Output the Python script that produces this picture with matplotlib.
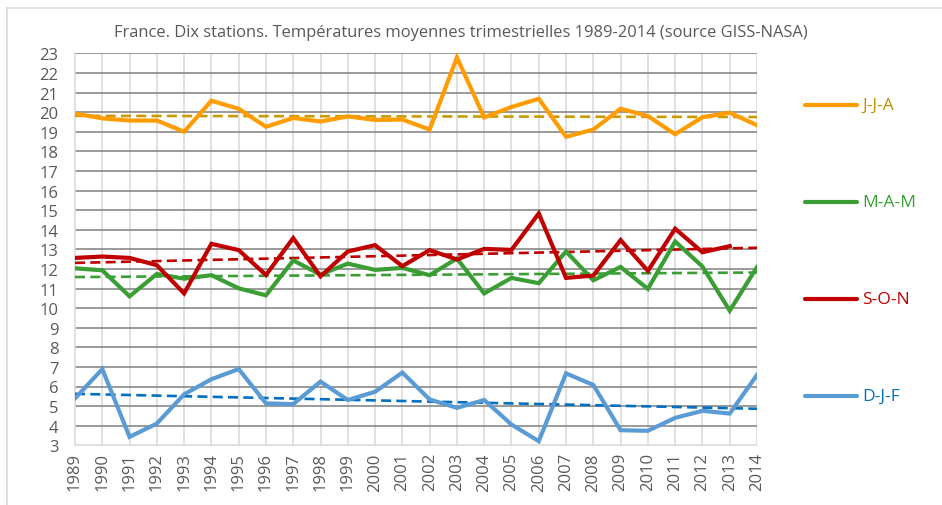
import numpy as np
import matplotlib
matplotlib.use("Agg")
import matplotlib.pyplot as plt
from matplotlib.lines import Line2D

years = list(range(1989, 2015))
jja = [19.93, 19.68, 19.57, 19.57, 19.0, 20.58, 20.17, 19.25, 19.7, 19.52, 19.78, 19.6,
       19.62, 19.11, 22.79, 19.73, 20.26, 20.68, 18.74, 19.11, 20.17, 19.8, 18.87, 19.74, 19.97, 19.33]
mam = [12.03, 11.93, 10.6, 11.74, 11.5, 11.68, 11.01, 10.65, 12.43, 11.71, 12.27, 11.95,
       12.05, 11.68, 12.53, 10.75, 11.54, 11.27, 12.89, 11.42, 12.1, 10.98, 13.4, 12.12, 9.87, 12.09]
son = [12.56, 12.63, 12.56, 12.19, 10.75, 13.28, 12.96, 11.69, 13.57, 11.62, 12.89, 13.21,
       12.14, 12.96, 12.48, 13.02, 12.97, 14.83, 11.54, 11.66, 13.47, 11.9, 14.05, 12.85, 13.16, np.nan]
djf = [5.39, 6.89, 3.43, 4.11, 5.6, 6.37, 6.89, 5.14, 5.1, 6.25, 5.31, 5.73,
       6.71, 5.34, 4.91, 5.31, 4.06, 3.21, 6.67, 6.08, 3.77, 3.74, 4.4, 4.76, 4.62, 6.59]

series = [
    ("J-J-A", jja, "#FF9C00", "#C89B00", "#C09000"),
    ("M-A-M", mam, "#3A9E35", "#3A9E35", "#3A9E35"),
    ("S-O-N", son, "#C00000", "#C00000", "#C00000"),
    ("D-J-F", djf, "#5B9BD5", "#0070C0", "#0070C0"),
]

FONT = "Open Sans"
TICK_FS = 12
W, H = 942, 506
fig = plt.figure(figsize=(W / 100, H / 100), dpi=100)
ax = fig.add_axes([75 / W, 1 - 446.3 / H, (757 - 75) / W, (446.3 - 54.3) / H])

x = np.arange(len(years))
for name, vals, col, tcol, lcol in series:
    v = np.array(vals, dtype=float)
    ax.plot(x, v, color=col, lw=3.0, solid_joinstyle="miter", zorder=4)
    m = ~np.isnan(v)
    p = np.polyfit(x[m], v[m], 1)
    ax.plot(x, np.polyval(p, x), color=tcol, lw=1.9, dashes=(3.8, 2), zorder=3)

ax.set_xlim(0, len(years) - 1)
ax.set_ylim(3, 23)
ax.set_yticks(range(3, 24))
ax.set_xticks(x)
ax.set_xticklabels([str(y) for y in years], rotation=90, fontfamily=FONT, fontsize=TICK_FS, color="#595959")
for lab in ax.get_yticklabels():
    lab.set_fontfamily(FONT)
    lab.set_fontsize(TICK_FS)
    lab.set_color("#595959")
ax.tick_params(axis="y", length=0, pad=12)
ax.tick_params(axis="x", length=0, pad=5)

for yv in range(4, 24):
    ax.axhline(yv, color="#7F7F7F", lw=1.1, zorder=1)
for xv in x[1:]:
    ax.axvline(xv, color="#D9D9D9", lw=1.1, zorder=0.5)
for s in ["top", "right"]:
    ax.spines[s].set_visible(False)
for s in ["left", "bottom"]:
    ax.spines[s].set_color("#D9D9D9")
    ax.spines[s].set_linewidth(1.1)

fig.text(461 / W, 1 - 33 / H,
         "France. Dix stations. Températures moyennes trimestrielles 1989-2014 (source GISS-NASA)",
         ha="center", va="center", fontfamily=FONT, fontsize=11.9, color="#595959")

legend_y = [106, 203, 300, 397]
for (name, vals, col, tcol, lcol), ly in zip(series, legend_y):
    fy = 1 - ly / H
    fig.add_artist(Line2D([805 / W, 857 / W], [fy, fy], color=col, lw=3.0,
                          solid_capstyle="round", transform=fig.transFigure))
    fig.text(862 / W, fy, name, ha="left", va="center", fontfamily=FONT,
             fontsize=12.5, color=lcol)

# chart border
fig.add_artist(Line2D([7 / W, 7 / W], [0, 1 - 9 / H], color="#D9D9D9", lw=1.2, transform=fig.transFigure))
fig.add_artist(Line2D([7 / W, 1], [1 - 9 / H, 1 - 9 / H], color="#D9D9D9", lw=1.2, transform=fig.transFigure))

fig.savefig("out.png", dpi=100)
